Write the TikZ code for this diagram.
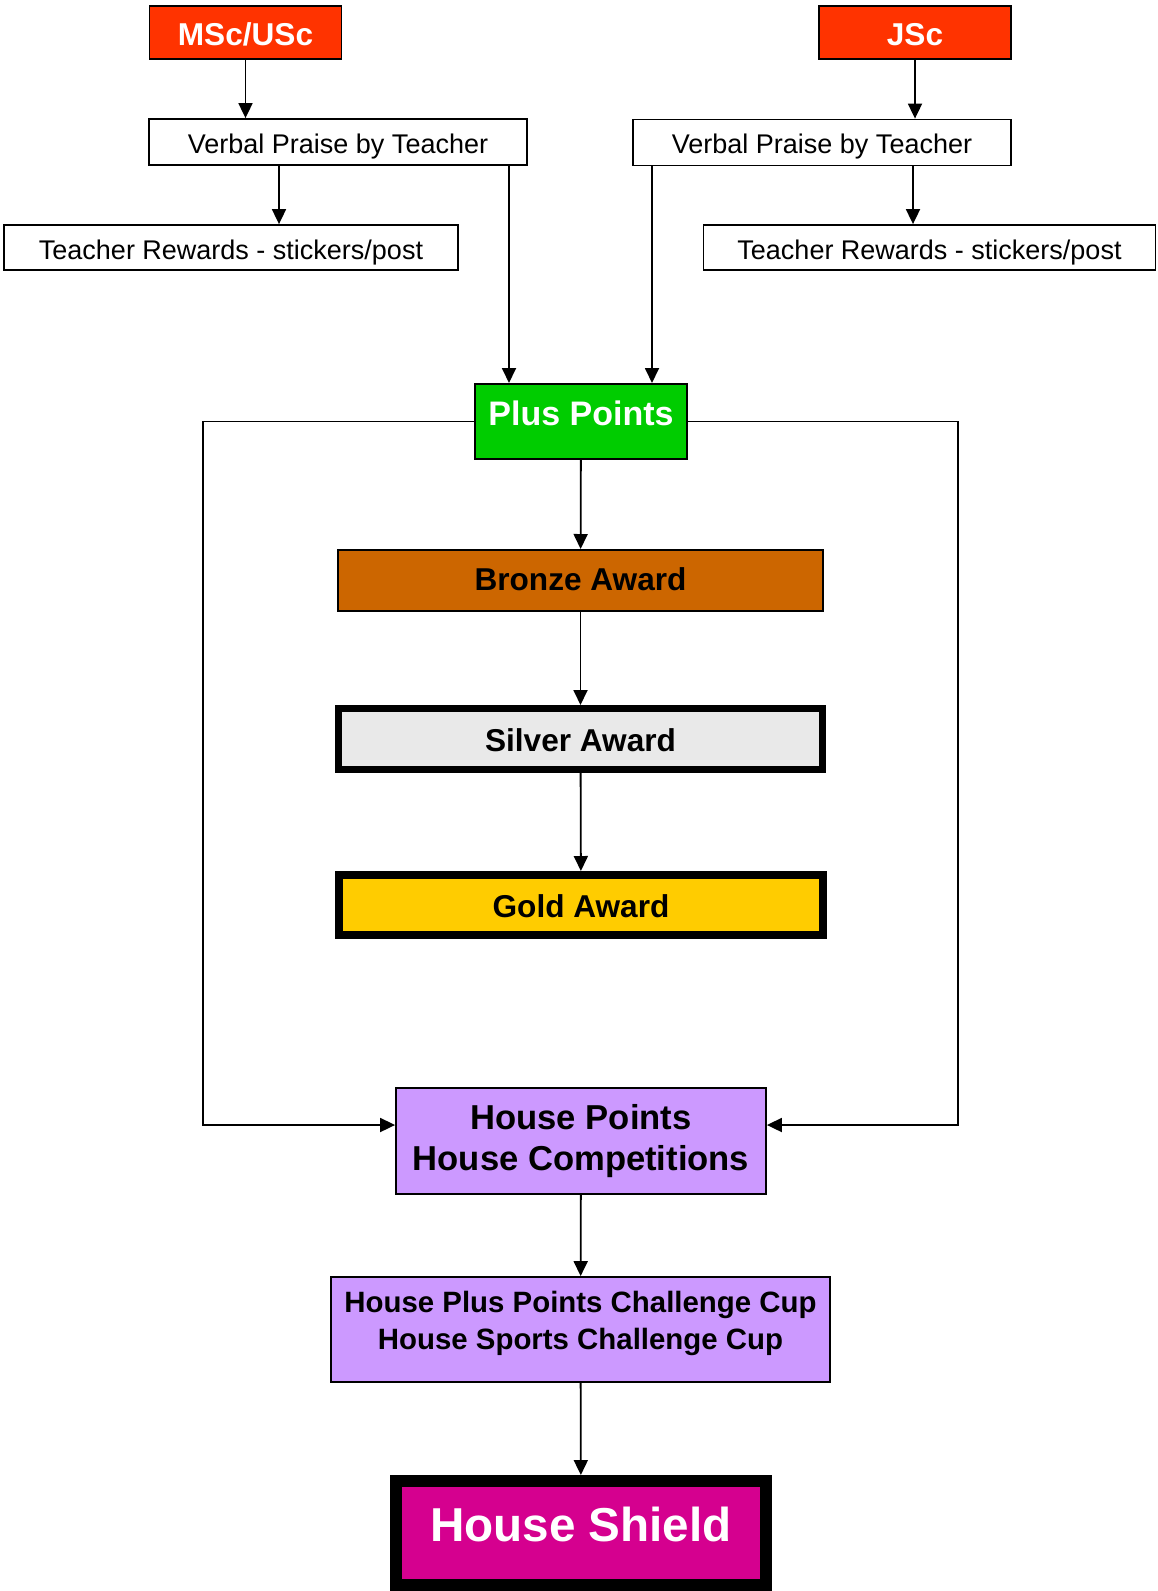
\documentclass[tikz,border=0pt]{standalone}
\usepackage{fontspec}
\setmainfont{Liberation Sans}
\usetikzlibrary{arrows.meta,calc}
\definecolor{cred}{HTML}{FF3300}
\definecolor{cgreen}{HTML}{00CC00}
\definecolor{cbronze}{HTML}{CC6600}
\definecolor{csilver}{HTML}{E9E9E9}
\definecolor{cgold}{HTML}{FFCC00}
\definecolor{clilac}{HTML}{CC99FF}
\definecolor{cmag}{HTML}{D5008F}
% place text with its (first) baseline at a given offset from the box centre
\newcommand\bl[2]{\raisebox{#1}[0pt][0pt]{#2}}
\newcommand\twolines[3]{\raisebox{#1}[0pt][0pt]{\begin{tabular}[t]{@{}c@{}}#2\\#3\end{tabular}}}
\tikzset{
  box/.style={draw=black, line width=1.8pt, rectangle, inner sep=0pt},
  arr/.style={draw=black, line width=1.8pt, -{Triangle[length=15pt,width=14pt]}},
  plaintxt/.style={font=\fontsize{27}{32}\selectfont},
  headtxt/.style={font=\fontsize{31.6}{38}\selectfont\bfseries},
}
\begin{document}
\begin{tikzpicture}[x=1pt,y=-1pt]
\useasboundingbox[fill=white] (0,0) rectangle (1158,1591);
% top row
\node[box, headtxt, fill=cred, text=white, minimum width=192pt, minimum height=53pt] (msc) at (245.5,32.5) {\bl{-12.5pt}{MSc/USc}};
\node[box, headtxt, fill=cred, text=white, minimum width=192pt, minimum height=53pt] (jsc) at (915,32.5) {\bl{-12.5pt}{JSc}};
\node[box, plaintxt, fill=white, minimum width=378pt, minimum height=46pt] (vpL) at (338,142) {\bl{-11.3pt}{Verbal Praise by Teacher}};
\node[box, plaintxt, fill=white, minimum width=378pt, minimum height=46pt] (vpR) at (822,142.5) {\bl{-11.3pt}{Verbal Praise by Teacher}};
\node[box, plaintxt, fill=white, minimum width=454pt, minimum height=45pt] (trL) at (231,247.5) {\bl{-11.8pt}{Teacher Rewards - stickers/post}};
\node[box, plaintxt, fill=white, minimum width=452pt, minimum height=45pt] (trR) at (929.5,247.5) {\bl{-11.8pt}{Teacher Rewards - stickers/post}};
% central column
\node[box, line width=2pt, fill=cgreen, text=white, font=\fontsize{34}{40}\selectfont\bfseries, minimum width=212pt, minimum height=75pt] (plus) at (581,421.5) {\bl{-3.5pt}{Plus Points}};
\node[box, line width=2pt, headtxt, fill=cbronze, minimum width=485pt, minimum height=61pt] (bronze) at (580.5,580.5) {\bl{-10pt}{Bronze Award}};
\node[box, line width=7pt, headtxt, fill=csilver, minimum width=484pt, minimum height=61pt] (silver) at (580.5,739) {\bl{-12.3pt}{Silver Award}};
\node[box, line width=8pt, headtxt, fill=cgold, minimum width=484pt, minimum height=60pt] (gold) at (581,905) {\bl{-12.6pt}{Gold Award}};
\node[box, line width=1.8pt, fill=clilac, font=\fontsize{34.6}{40.6}\selectfont\bfseries, minimum width=370pt, minimum height=106pt] (hp) at (581,1141) {\twolines{11.2pt}{House Points}{House Competitions}};
\node[box, line width=1.8pt, fill=clilac, font=\fontsize{29.4}{36.5}\selectfont\bfseries, minimum width=499pt, minimum height=105pt] (cup) at (580.5,1329.5) {\twolines{17pt}{House Plus Points Challenge Cup}{House Sports Challenge Cup}};
\node[box, line width=12pt, fill=cmag, text=white, font=\fontsize{47.6}{56}\selectfont\bfseries, minimum width=370pt, minimum height=104pt] (shield) at (581,1533) {\bl{-8pt}{House Shield}};
% connectors top
\draw[arr] (msc) -- (msc |- vpL.north);
\draw[arr] (jsc) -- (jsc |- vpR.north);
\draw[arr] ([xshift=-59pt]vpL.south) -- ([xshift=-59pt]vpL.south |- trL.north);
\draw[arr] ([xshift=91pt]vpR.south) -- ([xshift=91pt]vpR.south |- trR.north);
\draw[arr] ([xshift=-72pt]plus.north |- vpL.south) -- ([xshift=-72pt]plus.north);
\draw[arr] ([xshift=71pt]plus.north |- vpR.south) -- ([xshift=71pt]plus.north);
% central
\draw[arr] (plus) -- (bronze);
\draw[arr] (bronze) -- (silver);
\draw[arr] (silver) -- (gold);
\draw[arr] (hp) -- (cup);
\draw[arr] (cup) -- (shield);
% side loops
\coordinate (lbend) at (203,1125);
\coordinate (rbend) at (958,1125);
\draw[arr] (plus.west) -| (lbend) -- (lbend -| hp.west);
\draw[arr] (plus.east) -| (rbend) -- (rbend -| hp.east);
\end{tikzpicture}
\end{document}
